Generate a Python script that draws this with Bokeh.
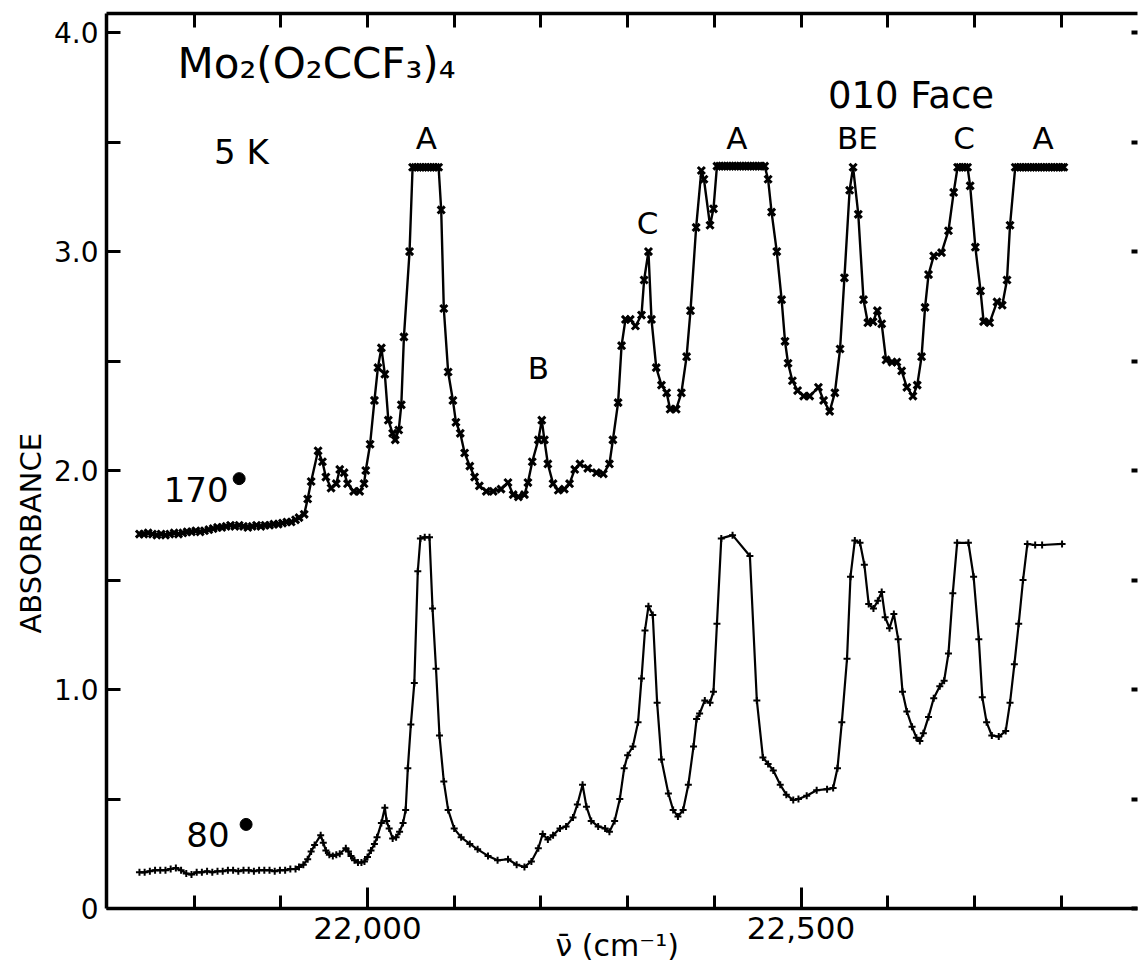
from bokeh.plotting import figure
from bokeh.models import Range1d, FixedTicker, LinearAxis, Title
from bokeh.core.properties import value
from bokeh.embed import file_html
from bokeh.resources import INLINE

FONT = "DejaVu Sans"

# ---------------- data: 170 degree spectrum (x markers) ----------------
x170 = [21737, 21742, 21747, 21752, 21757, 21762, 21767, 21772, 21777, 21782,
        21787, 21792, 21797, 21802, 21807, 21812, 21817, 21822, 21827, 21832,
        21837, 21842, 21847, 21852, 21857, 21862, 21867, 21872, 21877, 21882,
        21887, 21892, 21897, 21902, 21907, 21912, 21917, 21921,
        21927, 21931, 21935, 21943, 21948, 21952, 21958, 21964, 21968, 21973,
        21977, 21984, 21991, 21996, 21998, 22003, 22008, 22012, 22016, 22020,
        22024, 22029, 22032, 22036, 22039, 22042, 22048.5,
        22052, 22055, 22058, 22061, 22064, 22067, 22070, 22073, 22076, 22079, 22082,
        22085, 22088, 22093, 22098.5, 22102, 22107, 22112, 22118, 22123.5, 22129,
        22137, 22145, 22154, 22162, 22168, 22174, 22181, 22185, 22190, 22197,
        22201, 22204, 22208, 22214, 22220, 22227, 22233, 22239, 22245, 22254,
        22264, 22272, 22279, 22283, 22289, 22293, 22297.5, 22303, 22309, 22316,
        22319, 22324, 22327.5, 22333, 22339, 22345, 22349, 22356, 22362, 22368,
        22372.5, 22379, 22385, 22388, 22395, 22399, 22403,
        22406, 22409, 22412, 22415, 22418, 22421, 22424, 22427, 22430, 22433,
        22436, 22439, 22442, 22445, 22448, 22451, 22454, 22458,
        22462, 22466, 22472, 22477.6, 22481.5, 22485, 22490, 22496, 22503, 22510,
        22520, 22526, 22533, 22539, 22545, 22550, 22556, 22560, 22566, 22572,
        22577, 22583, 22588, 22593, 22598, 22605, 22610.5, 22616, 22622, 22629,
        22634, 22639, 22643, 22647, 22653, 22662, 22670, 22676, 22680.5,
        22683, 22686, 22689, 22692,
        22695, 22701, 22707, 22710.5, 22717.5, 22726, 22732, 22737.5, 22741, 22747,
        22750, 22753, 22756, 22759, 22762, 22765, 22768, 22771, 22774, 22777,
        22780, 22783, 22786, 22789, 22792, 22795, 22798, 22801, 22803]
y170 = [1.71, 1.71, 1.715, 1.71, 1.705, 1.71, 1.705, 1.71, 1.715, 1.71,
        1.715, 1.72, 1.72, 1.725, 1.72, 1.725, 1.73, 1.735, 1.74, 1.74,
        1.745, 1.75, 1.745, 1.75, 1.745, 1.74, 1.745, 1.75, 1.745, 1.75,
        1.75, 1.755, 1.755, 1.76, 1.765, 1.765, 1.775, 1.785,
        1.80, 1.87, 1.95, 2.09, 2.04, 1.97, 1.92, 1.94, 2.005, 1.99,
        1.94, 1.905, 1.905, 1.94, 2.0, 2.12, 2.32, 2.47, 2.56, 2.44,
        2.23, 2.17, 2.14, 2.185, 2.30, 2.61, 3.0,
        3.385, 3.385, 3.385, 3.385, 3.385, 3.385, 3.385, 3.385, 3.385, 3.385, 3.385,
        3.19, 2.74, 2.45, 2.32, 2.22, 2.17, 2.08, 2.02, 1.97, 1.93,
        1.905, 1.905, 1.915, 1.945, 1.89, 1.88, 1.89, 1.945, 2.04, 2.14,
        2.23, 2.14, 2.03, 1.94, 1.91, 1.915, 1.94, 2.005, 2.03, 2.01,
        1.99, 1.985, 2.03, 2.14, 2.31, 2.57, 2.69, 2.69, 2.66, 2.71,
        2.87, 3.0, 2.69, 2.47, 2.39, 2.355, 2.28, 2.28, 2.355, 2.52,
        2.73, 3.11, 3.37, 3.33, 3.12, 3.195, 3.39,
        3.39, 3.39, 3.39, 3.39, 3.39, 3.39, 3.39, 3.39, 3.39, 3.39,
        3.39, 3.39, 3.39, 3.39, 3.39, 3.39, 3.39, 3.39,
        3.33, 3.18, 3.0, 2.78, 2.59, 2.49, 2.41, 2.365, 2.34, 2.34,
        2.38, 2.32, 2.27, 2.355, 2.555, 2.88, 3.28, 3.385, 3.17, 2.78,
        2.675, 2.68, 2.73, 2.67, 2.505, 2.495, 2.495, 2.455, 2.38, 2.34,
        2.39, 2.52, 2.745, 2.895, 2.98, 2.995, 3.095, 3.27, 3.385,
        3.385, 3.385, 3.385, 3.385,
        3.30, 3.02, 2.82, 2.68, 2.675, 2.77, 2.755, 2.87, 3.12, 3.385,
        3.385, 3.385, 3.385, 3.385, 3.385, 3.385, 3.385, 3.385, 3.385, 3.385,
        3.385, 3.385, 3.385, 3.385, 3.385, 3.385, 3.385, 3.385, 3.385]

# ---------------- data: 80 degree spectrum (+ markers) ----------------
x80 = [21737, 21743, 21749, 21755, 21761, 21767, 21773, 21779, 21785, 21791,
       21797, 21803, 21809, 21815, 21821, 21827, 21833, 21839, 21845, 21851,
       21857, 21863, 21869, 21875, 21881, 21887, 21893, 21899, 21905, 21911,
       21917, 21921,
       21926, 21931, 21935, 21939, 21946, 21949, 21952, 21956, 21960, 21964,
       21968, 21975, 21978, 21981, 21985, 21989, 21993, 21996.5, 22000, 22004,
       22008, 22011, 22016, 22020, 22022, 22025, 22029, 22033, 22037, 22041,
       22044, 22046.5, 22050, 22054, 22058, 22061, 22066, 22071.5, 22075, 22079,
       22083, 22088, 22093, 22100, 22108, 22118, 22127, 22139, 22150, 22162,
       22172, 22181, 22189, 22197, 22202, 22208, 22214, 22222, 22229, 22237,
       22242, 22248, 22252.5, 22258, 22266, 22274, 22279, 22285, 22291, 22296,
       22300, 22306, 22312, 22316, 22320, 22324, 22329, 22334, 22339, 22347,
       22352.5, 22358, 22364, 22370, 22376, 22379.5, 22383, 22389, 22395, 22399,
       22403, 22408, 22421, 22441, 22449, 22456, 22462, 22468, 22476, 22483,
       22491, 22497, 22506.5, 22518, 22530, 22537, 22542, 22547, 22553, 22557,
       22562, 22568, 22573, 22578, 22583.5, 22588.5, 22593, 22597, 22602, 22607,
       22612, 22617, 22622, 22628, 22633, 22637, 22641, 22647, 22653, 22660,
       22665, 22670, 22675, 22680, 22693, 22699, 22705, 22709, 22714, 22720,
       22728, 22736, 22741, 22746, 22751, 22756, 22761, 22770, 22778, 22801]
y80 = [0.165, 0.165, 0.17, 0.175, 0.175, 0.175, 0.18, 0.185, 0.175, 0.16,
       0.155, 0.165, 0.165, 0.17, 0.165, 0.17, 0.17, 0.175, 0.175, 0.17,
       0.175, 0.175, 0.17, 0.175, 0.175, 0.175, 0.17, 0.175, 0.175, 0.18,
       0.18, 0.19,
       0.20, 0.225, 0.26, 0.29, 0.335, 0.30, 0.265, 0.245, 0.24, 0.245,
       0.25, 0.275, 0.26, 0.24, 0.22, 0.21, 0.21, 0.215, 0.235, 0.265,
       0.295, 0.325, 0.39, 0.46, 0.40, 0.365, 0.32, 0.325, 0.35, 0.39,
       0.45, 0.64, 0.84, 1.03, 1.54, 1.69, 1.695, 1.695, 1.37, 1.095,
       0.79, 0.58, 0.45, 0.365, 0.325, 0.295, 0.27, 0.24, 0.22, 0.225,
       0.20, 0.19, 0.215, 0.275, 0.34, 0.315, 0.335, 0.365, 0.375, 0.415,
       0.475, 0.565, 0.465, 0.40, 0.375, 0.365, 0.35, 0.40, 0.50, 0.64,
       0.70, 0.74, 0.85, 1.05, 1.27, 1.38, 1.34, 0.94, 0.68, 0.525,
       0.45, 0.42, 0.45, 0.565, 0.74, 0.865, 0.89, 0.95, 0.94, 0.99,
       1.30, 1.69, 1.705, 1.61, 0.95, 0.69, 0.66, 0.63, 0.565, 0.52,
       0.495, 0.50, 0.515, 0.54, 0.545, 0.55, 0.64, 0.85, 1.14, 1.515,
       1.68, 1.67, 1.57, 1.39, 1.37, 1.405, 1.445, 1.33, 1.28, 1.345,
       1.23, 0.99, 0.90, 0.83, 0.78, 0.765, 0.80, 0.875, 0.96, 1.015,
       1.04, 1.165, 1.44, 1.67, 1.67, 1.515, 1.23, 0.965, 0.85, 0.79,
       0.785, 0.81, 0.94, 1.115, 1.30, 1.50, 1.665, 1.66, 1.66, 1.665]

# ---------------- axes ticks ----------------
y_major = [0, 1.0, 2.0, 3.0, 4.0]
y_major_labels = ["0", "1.0", "2.0", "3.0", "4.0"]
y_minor = [0.5, 1.5, 2.5, 3.5]
x_major = [22000, 22500]
x_major_labels = ["22,000", "22,500"]
x_minor = [21800, 21900, 22100, 22200, 22300, 22400, 22600, 22700, 22800]
x_title = "ν̄  (cm⁻¹)"
y_title = "ABSORBANCE"

# ---------------- annotations ----------------
title_text = ["Mo₂(O₂CCF₃)₄"]
title_x = [21781]
title_y = [3.78]
cond_text = ["5 K", "010 Face"]
cond_x = [21823, 22531]
cond_y = [3.393, 3.644]
peak_text = ["A", "A", "C", "B", "BE", "C", "A"]
peak_x = [22068, 22426, 22323, 22197, 22565, 22688, 22779]
peak_y = [3.461, 3.461, 3.073, 2.411, 3.461, 3.461, 3.461]
angle_text = ["170", "80"]
angle_x = [21765, 21791]
angle_y = [1.849, 0.274]
deg_x = [21852, 21860]
deg_y = [1.963, 0.384]

PX_PER_UNIT = 219.0  # vertical pixels per absorbance unit of the frame


def lift(ys, font_px):
    # svg text baseline sits ~0.4 em low; lift the anchor to compensate
    return [y + 0.4 * font_px / PX_PER_UNIT for y in ys]


p = figure(width=1139, height=977, output_backend="svg", toolbar_location=None,
           x_range=Range1d(21699, 22888), y_range=Range1d(0, 4.087),
           min_border_left=106, min_border_right=2, min_border_top=13,
           min_border_bottom=69)
p.grid.visible = False
p.outline_line_color = None
p.background_fill_color = "white"
p.border_fill_color = "white"

# left axis
ya = p.yaxis[0]
ya.ticker = FixedTicker(ticks=y_major, minor_ticks=y_minor)
ya.major_label_overrides = {t: l for t, l in zip(y_major, y_major_labels)}
ya.major_tick_in = 14
ya.major_tick_out = 0
ya.minor_tick_in = 14
ya.minor_tick_out = 0
ya.axis_line_width = 3.5
ya.axis_line_color = "black"
ya.major_tick_line_width = 3
ya.minor_tick_line_width = 3
ya.major_tick_line_color = "black"
ya.minor_tick_line_color = "black"
ya.major_label_text_font = FONT
ya.major_label_text_font_size = "28px"
ya.major_label_text_color = "black"
ya.major_label_standoff = 8

# y title as a side panel, shifted along the axis to sit where the reference has it
p.add_layout(Title(text=y_title, align="left", offset=275, standoff=6,
                   text_font=FONT, text_font_size="29px", text_font_style="normal",
                   text_color="black"), "left")

# bottom axis
xa = p.xaxis[0]
xa.ticker = FixedTicker(ticks=x_major, minor_ticks=x_minor)
xa.major_label_overrides = {t: l for t, l in zip(x_major, x_major_labels)}
xa.major_tick_in = 21
xa.major_tick_out = 0
xa.minor_tick_in = 13
xa.minor_tick_out = 0
xa.axis_line_width = 3.5
xa.axis_line_color = "black"
xa.major_tick_line_width = 3
xa.minor_tick_line_width = 3
xa.major_label_text_font = FONT
xa.major_label_text_font_size = "31px"
xa.major_label_text_color = "black"
xa.major_label_standoff = 8
xa.axis_label = x_title
xa.axis_label_text_font = FONT
xa.axis_label_text_font_size = "30px"
xa.axis_label_text_font_style = "normal"
xa.axis_label_text_color = "black"
xa.axis_label_standoff = -14

# top axis (ticks only)
ta = LinearAxis(ticker=FixedTicker(ticks=sorted(x_major + x_minor), minor_ticks=[]),
                major_tick_in=14, major_tick_out=0, minor_tick_in=0, minor_tick_out=0,
                major_label_text_color=None, major_label_standoff=0,
                axis_line_width=3.5, major_tick_line_width=3)
p.add_layout(ta, "above")

# right axis: tick dots only
ra = LinearAxis(ticker=FixedTicker(ticks=y_major, minor_ticks=y_minor),
                major_tick_in=6, major_tick_out=0, minor_tick_in=6, minor_tick_out=0,
                major_label_text_color=None, major_label_standoff=0,
                axis_line_color=None, major_tick_line_width=4, minor_tick_line_width=4)
p.add_layout(ra, "right")

# spectra
p.line(x170, y170, line_color="black", line_width=2.4)
p.scatter(x170, y170, marker="x", size=10, line_color="black", line_width=3)
p.line(x80, y80, line_color="black", line_width=2.2)
p.scatter(x80, y80, marker="cross", size=7, line_color="black", line_width=2)

# texts
p.text(x=title_x, y=lift(title_y, 42), text=title_text, text_font=value(FONT),
       text_font_size=value("42px"), text_align="left", text_baseline="alphabetic",
       text_color="black")
p.text(x=cond_x[:1], y=lift(cond_y[:1], 34), text=cond_text[:1], text_font=value(FONT),
       text_font_size=value("34px"), text_align="left", text_baseline="alphabetic",
       text_color="black")
p.text(x=cond_x[1:], y=lift(cond_y[1:], 37), text=cond_text[1:], text_font=value(FONT),
       text_font_size=value("37px"), text_align="left", text_baseline="alphabetic",
       text_color="black")
p.text(x=peak_x, y=lift(peak_y, 31), text=peak_text, text_font=value(FONT),
       text_font_size=value("31px"), text_align="center", text_baseline="alphabetic",
       text_color="black")
p.text(x=angle_x, y=lift(angle_y, 34), text=angle_text, text_font=value(FONT),
       text_font_size=value("34px"), text_align="left", text_baseline="alphabetic",
       text_color="black")
p.scatter(deg_x, deg_y, marker="circle", size=12, color="black")

open("out.html", "w").write(file_html(p, INLINE))
